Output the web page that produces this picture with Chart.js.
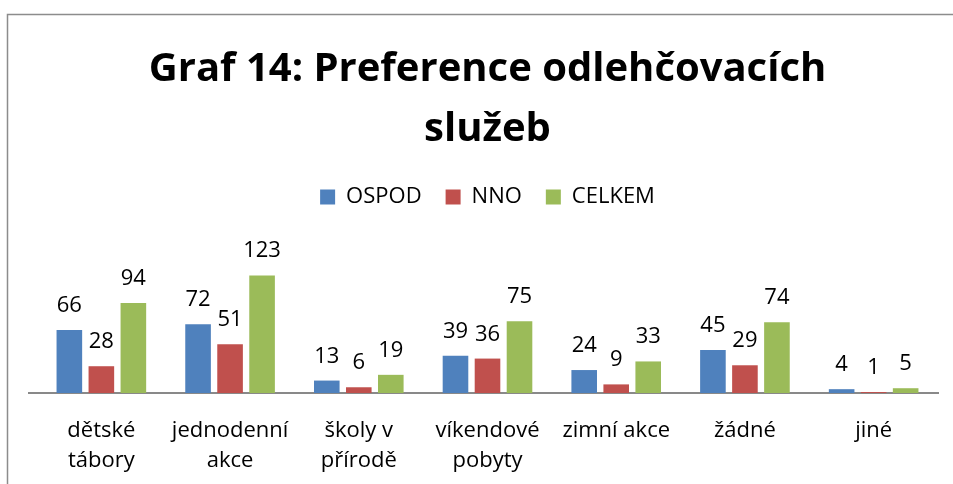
<!DOCTYPE html>
<html lang="cs">
<head>
    <meta charset="UTF-8">
    <title>Graf 14</title>
    <script src="https://cdn.jsdelivr.net/npm/chart.js"></script>
    <style>
        html, body { margin: 0; padding: 0; background: #fff; }
        #wrap { width: 953px; height: 484px; position: relative; }
    </style>
</head>
<body>
    <div id="wrap">
        <canvas id="chart"></canvas>
    </div>

    <script>
        const categories = [
            ["dětské", "tábory"],
            ["jednodenní", "akce"],
            ["školy v", "přírodě"],
            ["víkendové", "pobyty"],
            "zimní akce",
            "žádné",
            "jiné"
        ];
        const ospod = [66, 72, 13, 39, 24, 45, 4];
        const nno = [28, 51, 6, 36, 9, 29, 1];
        const celkem = [94, 123, 19, 75, 33, 74, 5];

        const fontName = "'Open Sans', 'DejaVu Sans', sans-serif";

        // popisky hodnot nad sloupci
        const valueLabels = {
            id: "valueLabels",
            afterDatasetsDraw(chart) {
                const ctx = chart.ctx;
                ctx.save();
                ctx.font = "22px " + fontName;
                ctx.fillStyle = "#000";
                ctx.textAlign = "center";
                ctx.textBaseline = "alphabetic";
                chart.data.datasets.forEach((ds, i) => {
                    chart.getDatasetMeta(i).data.forEach((bar, j) => {
                        ctx.fillText(ds.data[j], bar.x, bar.y - 18);
                    });
                });
                ctx.restore();
            }
        };

        // rámeček grafu (levý a horní okraj) + kousek osy vlevo
        const frame = {
            id: "frame",
            beforeDraw(chart) {
                const ctx = chart.ctx;
                const y = Math.round(chart.chartArea.bottom);
                ctx.save();
                ctx.strokeStyle = "#8c8c8c";
                ctx.lineWidth = 1.5;
                ctx.beginPath();
                ctx.moveTo(7.5, chart.height + 5);
                ctx.lineTo(7.5, 14.5);
                ctx.lineTo(chart.width + 5, 14.5);
                ctx.stroke();
                ctx.strokeStyle = "#898989";
                ctx.lineWidth = 2;
                ctx.beginPath();
                ctx.moveTo(28, y);
                ctx.lineTo(chart.chartArea.left + 1, y);
                ctx.stroke();
                ctx.restore();
            }
        };

        const ctx = document.getElementById("chart").getContext("2d");
        const chart = new Chart(ctx, {
            type: "bar",
            data: {
                labels: categories,
                datasets: [
                    { label: "OSPOD", data: ospod, backgroundColor: "#4F81BD" },
                    { label: "NNO", data: nno, backgroundColor: "#C0504D" },
                    { label: "CELKEM", data: celkem, backgroundColor: "#9BBB59" }
                ]
            },
            options: {
                responsive: true,
                maintainAspectRatio: false,
                animation: false,
                layout: { padding: { left: 37, right: 15, top: 0, bottom: 0 } },
                datasets: {
                    bar: { categoryPercentage: 0.746, barPercentage: 0.8 }
                },
                plugins: {
                    title: {
                        display: true,
                        text: ["Graf 14: Preference odlehčovacích", "služeb"],
                        color: "#000",
                        font: { family: fontName, size: 40, weight: "bold", lineHeight: 1.5 },
                        padding: { top: 40, bottom: 2 }
                    },
                    legend: {
                        display: true,
                        labels: {
                            color: "#000",
                            boxWidth: 15,
                            boxHeight: 15,
                            padding: 24,
                            font: { family: fontName, size: 22 }
                        }
                    },
                    tooltip: { enabled: false }
                },
                scales: {
                    x: {
                        grid: { display: false, drawTicks: false },
                        border: { display: true, color: "#898989", width: 2 },
                        ticks: {
                            color: "#000",
                            maxRotation: 0,
                            autoSkip: false,
                            padding: 23,
                            font: { family: fontName, size: 22, lineHeight: 1.36 }
                        },
                        afterFit(scale) { scale.height = 91; }
                    },
                    y: {
                        display: false,
                        min: 0,
                        max: 183
                    }
                }
            },
            plugins: [valueLabels, frame]
        });
    </script>
</body>
</html>
